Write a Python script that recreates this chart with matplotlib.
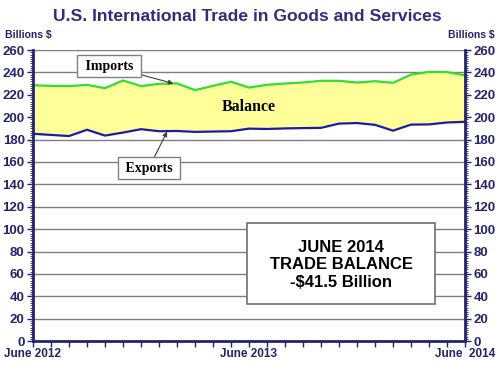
import numpy as np
import matplotlib
matplotlib.use("Agg")
import matplotlib.pyplot as plt
import matplotlib.ticker as mtick
from matplotlib.patches import Rectangle

# monthly values, June 2012 .. June 2014 (billions $)
months = np.arange(25)
imports = [228.6, 228.0, 227.8, 228.9, 225.9, 232.8, 227.8, 229.8, 230.2, 224.2, 228.0, 231.7, 226.5,
           228.9, 230.1, 231.0, 232.5, 232.5, 231.0, 232.2, 230.7, 238.0, 240.5, 240.3, 237.4]
exports = [185.2, 184.2, 183.2, 188.8, 183.6, 186.3, 189.3, 187.5, 187.7, 186.9, 187.2, 187.5, 189.8,
           189.5, 190.0, 190.3, 190.5, 194.3, 194.8, 193.2, 188.0, 193.4, 193.6, 195.3, 195.9]
xlabels = {0: 'June 2012', 12: 'June 2013', 24: 'June  2014'}

navy = '#23236e'
plt.rcParams['font.family'] = ['Liberation Sans', 'DejaVu Sans']

fig = plt.figure(figsize=(5, 3.82), dpi=100)
ax = fig.add_axes([0.066, 0.107, 0.864, 0.762])

ax.fill_between(months, exports, imports, color='#ffff99', zorder=2)
ax.plot(months, imports, color='#33dd33', lw=1.6, zorder=3)
ax.plot(months, exports, color='#1c1ca8', lw=1.6, zorder=3)

ax.set_xlim(0, 24)
ax.set_ylim(0, 260)
ax.yaxis.set_major_locator(mtick.MultipleLocator(20))
ax.yaxis.set_minor_locator(mtick.MultipleLocator(2))
ax.grid(axis='y', color='#7f7f7f', lw=1.0, zorder=1)
ax.set_xticks(months)
ax.set_xticklabels([xlabels.get(m, '') for m in months])

for s in ['left', 'bottom', 'right']:
    ax.spines[s].set_color(navy)
    ax.spines[s].set_linewidth(2)
    ax.spines[s].set_zorder(5)
ax.spines['top'].set_visible(False)

ax.tick_params(axis='x', direction='out', length=4, color=navy, width=1, labelsize=8.5,
               labelcolor=navy, pad=1)
ax.tick_params(axis='y', which='major', direction='out', length=4, color=navy, width=1,
               labelsize=9.5, labelcolor=navy, pad=2)
ax.tick_params(axis='y', which='minor', direction='out', length=2.5, color=navy, width=0.6)
for lab in ax.get_xticklabels() + ax.get_yticklabels():
    lab.set_fontweight('bold')

ax2 = ax.twinx()
ax2.set_ylim(0, 260)
ax2.yaxis.set_major_locator(mtick.MultipleLocator(20))
ax2.yaxis.set_minor_locator(mtick.MultipleLocator(2))
ax2.tick_params(axis='y', which='major', direction='out', length=4, color=navy, width=1,
                labelsize=9.5, labelcolor=navy, pad=2)
ax2.tick_params(axis='y', which='minor', direction='out', length=2.5, color=navy, width=0.6)
for lab in ax2.get_yticklabels():
    lab.set_fontweight('bold')
for s in ax2.spines.values():
    s.set_visible(False)

fig.text(0.495, 0.958, 'U.S. International Trade in Goods and Services', ha='center', va='center',
         fontsize=12.6, fontweight='bold', color='#2e2e80')
fig.text(0.01, 0.908, 'Billions $', ha='left', va='center', fontsize=7.5, fontweight='bold', color=navy)
fig.text(0.99, 0.908, 'Billions $', ha='right', va='center', fontsize=7.5, fontweight='bold', color=navy)

serif = ['Liberation Serif', 'DejaVu Serif']
box = dict(boxstyle='square,pad=0.3', fc='white', ec='#808080', lw=1)
arrow = dict(arrowstyle='-|>', color='#404040', lw=0.8, mutation_scale=7, shrinkA=0, shrinkB=0)
ax.annotate(' Imports ', xy=(7.8, imports[7] + 0.3), xytext=(4.22, 245.7), ha='center', va='center',
            fontsize=10, fontweight='bold', family=serif, bbox=box, arrowprops=arrow, zorder=6)
ax.annotate(' Exports ', xy=(7.45, exports[7] - 0.3), xytext=(6.44, 154.6), ha='center', va='center',
            fontsize=10, fontweight='bold', family=serif, bbox=box, arrowprops=arrow, zorder=6)
ax.text(12.0, 209, 'Balance', ha='center', va='center', fontsize=11.4, fontweight='bold',
        family=serif, zorder=6)

fig.add_artist(Rectangle((0.494, 0.2034), 0.376, 0.2136, transform=fig.transFigure,
                         fc='white', ec='#707070', lw=1.2, zorder=6))
fig.text(0.682, 0.307, 'JUNE 2014\nTRADE BALANCE\n-$41.5 Billion', ha='center', va='center',
         fontsize=12, fontweight='bold', linespacing=1.22, zorder=7)

plt.savefig('out.png', dpi=100)
